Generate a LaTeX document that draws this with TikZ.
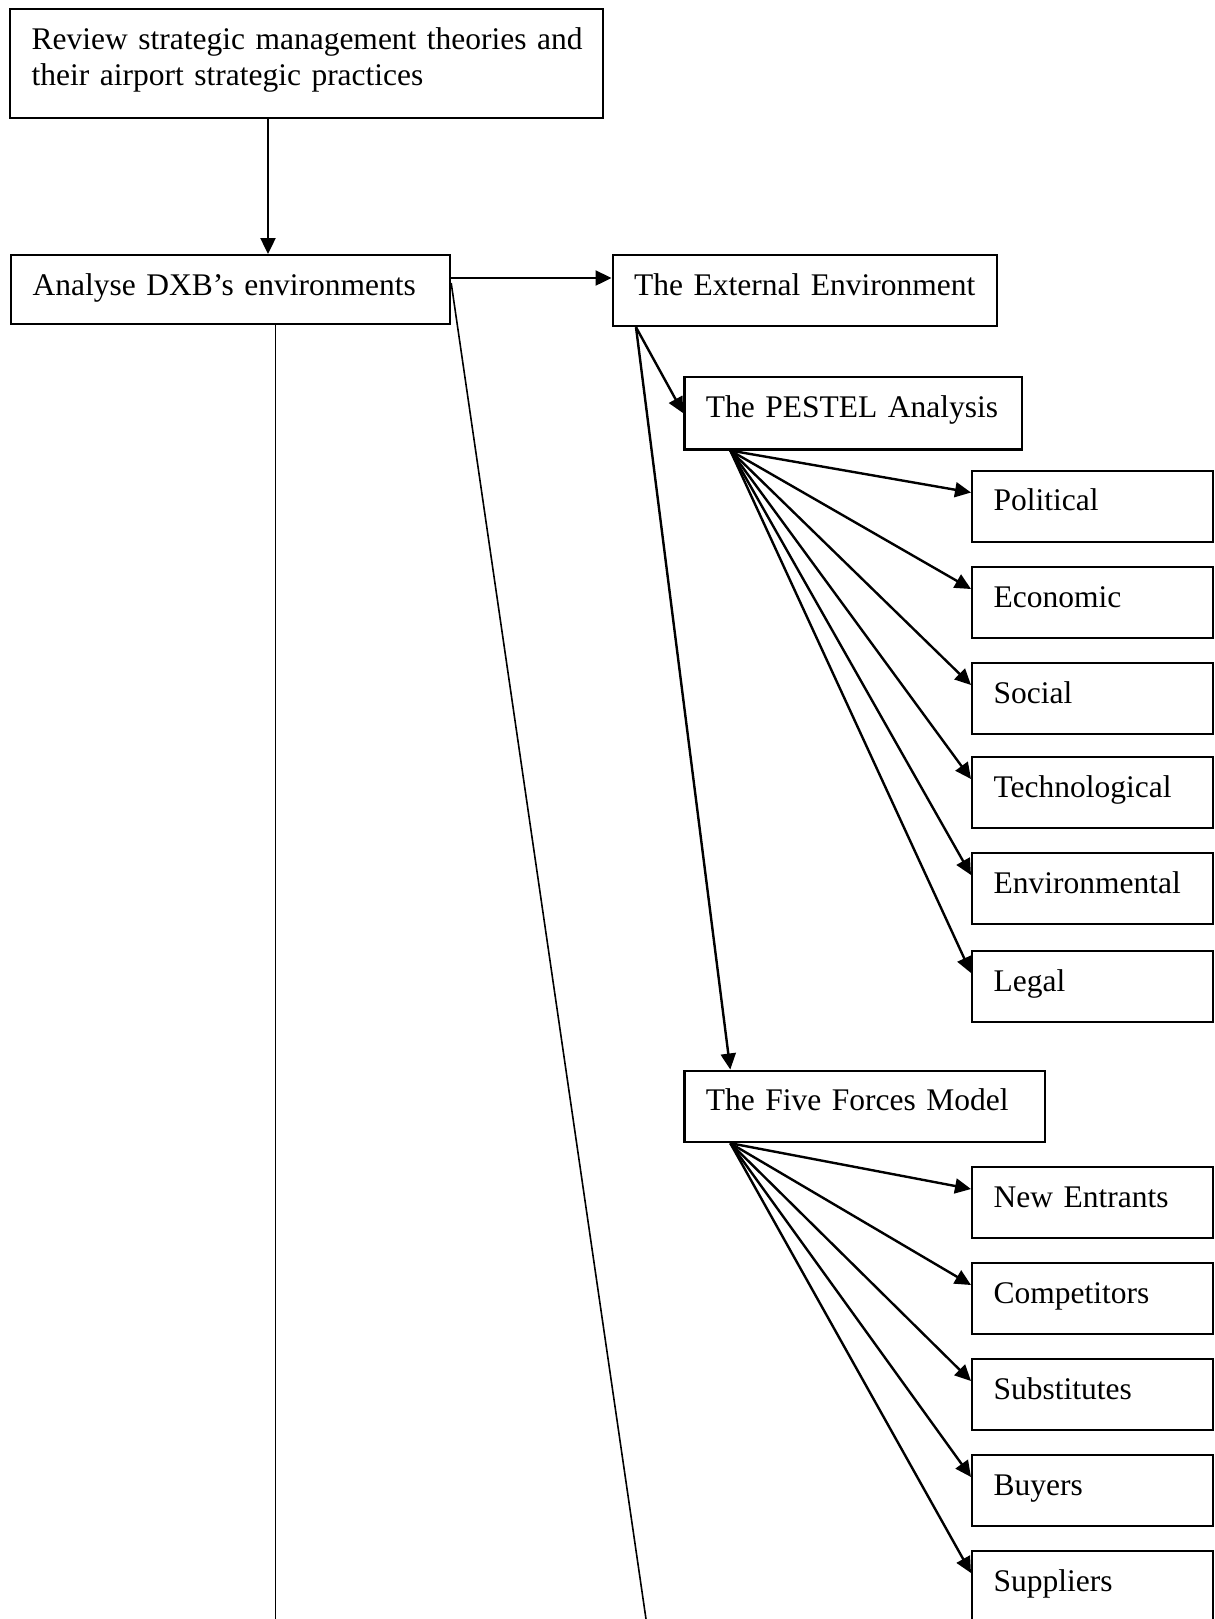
\documentclass[tikz,border=0pt]{standalone}
\usepackage{fontspec}
\setmainfont{Liberation Serif}
\usetikzlibrary{arrows.meta,calc}
\begin{document}
\begin{tikzpicture}[x=0.5pt,y=-0.5pt,
  box/.style={draw, line width=1.1pt, rectangle, anchor=north west,
    inner xsep=10.75pt, inner ysep=0pt, align=left,
    font=\fontsize{15.75pt}{18.3pt}\selectfont, text height=20pt},
  leaf/.style={box, text width=98.75pt, text depth=15.5pt},
  arr/.style={line width=1.2pt, -{Triangle[length=8pt,width=7.5pt]}},
  plain line/.style={line width=0.8pt},
]
\useasboundingbox (0,0) rectangle (1215,1619);

% main chain
\node[box, text width=275pt, text depth=34.5pt] (rev) at (9,8)
  {\mbox{Review strategic management theories and}\\\mbox{their airport strategic practices}};
\node[box, text width=198pt, text depth=14.5pt] (ana) at (10,254)
  {\mbox{Analyse DXB’s environments}};
\node[box, text width=170.75pt, text depth=15.5pt] (ext) at (611.5,254)
  {\mbox{The External Environment}};
\node[box, text width=147.35pt, text depth=16.15pt] (pes) at (683.3,376)
  {\mbox{The PESTEL Analysis}};
\node[box, text width=158.85pt, text depth=15.75pt] (ffm) at (683.3,1069.5)
  {\mbox{The Five Forces Model}};

% PESTEL factors
\node[leaf] (pol) at (971,469.5) {\mbox{Political}};
\node[leaf] (eco) at (971,566) {\mbox{Economic}};
\node[leaf] (soc) at (971,662) {\mbox{Social}};
\node[leaf] (tec) at (971,756) {\mbox{Technological}};
\node[leaf] (env) at (971,852) {\mbox{Environmental}};
\node[leaf] (leg) at (971,950) {\mbox{Legal}};

% five forces
\node[leaf] (new) at (971,1166) {\mbox{New Entrants}};
\node[leaf] (com) at (971,1262) {\mbox{Competitors}};
\node[leaf] (sub) at (971,1358) {\mbox{Substitutes}};
\node[leaf] (buy) at (971,1454) {\mbox{Buyers}};
\node[leaf] (sup) at (971,1550) {\mbox{Suppliers}};

% connectors
\coordinate (xa) at (268,0);
\draw[arr] (xa |- rev.south) -- (xa |- ana.north);

\coordinate (ae) at ([yshift=-12pt]ana.north east);
\draw[arr] (ae) -- (ae -| ext.west);

\coordinate (eo) at ([xshift=12.25pt]ext.south west);
\draw[arr] (eo) -- (pes.west);
\draw[arr] (eo) -- ([xshift=23.5pt]ffm.north west);

\coordinate (po) at ([xshift=23.5pt]pes.south west);
\foreach \n in {pol,eco,soc,tec,env,leg}
  \draw[arr] (po) -- ([yshift=-11.5pt]\n.north west);

\coordinate (fo) at ([xshift=23.5pt]ffm.south west);
\foreach \n in {new,com,sub,buy,sup}
  \draw[arr] (fo) -- ([yshift=-11.5pt]\n.north west);

% lines running off the page
\coordinate (vend) at (275.5,1619);
\draw[plain line] (vend |- ana.south) -- (vend);
\coordinate (dend) at (646,1619);
\draw[plain line] ([yshift=-14.5pt]ana.north east) -- (dend);
\end{tikzpicture}
\end{document}
